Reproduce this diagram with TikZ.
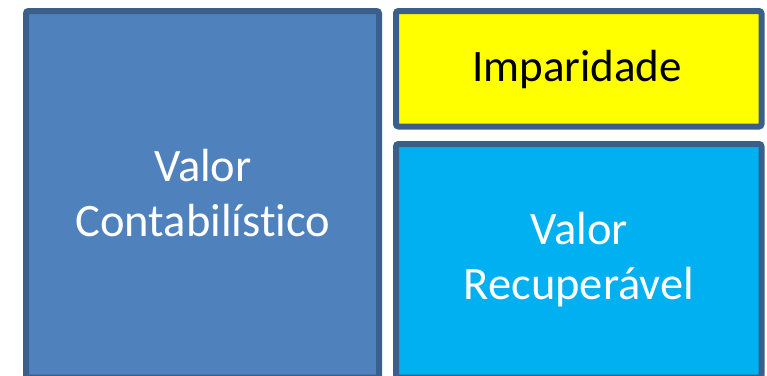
\documentclass[tikz,border=0pt]{standalone}
\usepackage{fontspec}
\setmainfont[Ligatures={NoCommon,NoRare},Contextuals=NoAlternate]{Carlito}
\definecolor{edge}{HTML}{3A5F8B}
\definecolor{bluefill}{HTML}{4F81BD}
\definecolor{cyanfill}{HTML}{00B0F0}
\definecolor{yellowfill}{HTML}{FFFF00}
\begin{document}
\begin{tikzpicture}[x=1pt,y=-1pt,
  panel/.style={draw=edge,line width=6pt,rounded corners=2.5pt},
  bigtext/.style={text=white,align=center,font=\fontsize{46.5}{55}\selectfont},
  midtext/.style={text=black,align=center,font=\fontsize{45}{52}\selectfont}]
\useasboundingbox (0,0) rectangle (767,375);
\begin{scope}
\clip (0,0) rectangle (767,375);
\path[panel,fill=bluefill] (26,11) rectangle (379,377.5);
\path[panel,fill=yellowfill] (396,11) rectangle (761.5,126.5);
\path[panel,fill=cyanfill] (396,144) rectangle (761.5,377.5);
\end{scope}
\node[bigtext] (vc) at (203,193) {Valor\\Contabilístico};
\node[midtext] (imp) at (577,69) {Imparidade};
\node[bigtext] (vr) at (579,260) {Valor\\Recuperável};
\end{tikzpicture}
\end{document}
